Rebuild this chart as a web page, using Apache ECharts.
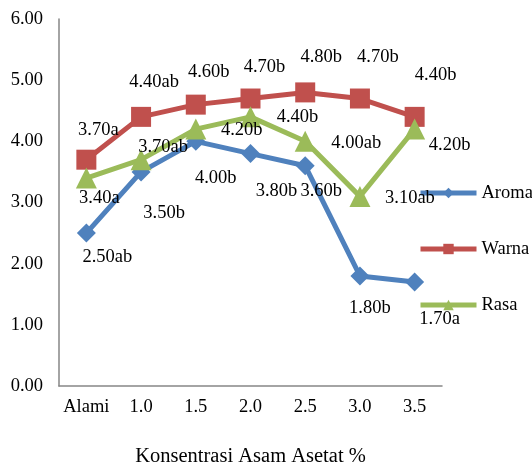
<!DOCTYPE html>
<html>
<head>
<meta charset="utf-8">
<script src="https://cdn.jsdelivr.net/npm/echarts@6/dist/echarts.min.js"></script>
<style>
html,body{margin:0;padding:0;background:#fff;}
#chart{width:532px;height:465px;}
</style>
</head>
<body>
<div id="chart"></div>
<script>
// ---- data ----
const categories = ['Alami', '1.0', '1.5', '2.0', '2.5', '3.0', '3.5'];
const yTicks = [0, 1, 2, 3, 4, 5, 6];
const seriesNames = ['Aroma', 'Warna', 'Rasa'];
const aromaValues = [2.50, 3.50, 4.00, 3.80, 3.60, 1.80, 1.70];
const aromaLetters = ['ab', 'b', 'b', 'b', 'b', 'b', 'a'];
const warnaValues = [3.70, 4.40, 4.60, 4.70, 4.80, 4.70, 4.40];
const warnaLetters = ['a', 'ab', 'b', 'b', 'b', 'b', 'b'];
const rasaValues = [3.40, 3.70, 4.20, 4.40, 4.00, 3.10, 4.20];
const rasaLetters = ['a', 'ab', 'b', 'b', 'ab', 'ab', 'b'];
const xTitle = 'Konsentrasi Asam Asetat %';

// ---- layout (label placement, not data) ----
const aromaLabelShift = [[21,24],[23,41],[20,37],[26,38],[16,25],[10,32],[25,37]];
const warnaLabelShift = [[12,-30],[13,-35],[13,-32],[14,-31],[16,-35],[18,-41],[21,-42]];
const rasaLabelShift  = [[13,20],[22,-13],[46,1],[47,0],[51,2],[50,2],[35,16]];

const FONT = 'Liberation Serif';
const colors = ['#4F81BD', '#C0504D', '#9BBB59'];
const symbols = ['diamond', 'rect', 'triangle'];
const symbolSizes = [19, 20, 21];

function buildData(values, letters, shifts) {
  return values.map((v, i) => ({
    value: v,
    letter: letters[i],
    label: { offset: shifts[i] }
  }));
}

const allData = [
  buildData(aromaValues, aromaLetters, aromaLabelShift),
  buildData(warnaValues, warnaLetters, warnaLabelShift),
  buildData(rasaValues, rasaLetters, rasaLabelShift)
];

const chart = echarts.init(document.getElementById('chart'), null, {renderer: 'canvas'});
chart.setOption({
  animation: false,
  backgroundColor: '#fff',
  grid: { left: 59, right: 90, top: 19, bottom: 79, containLabel: false, outerBoundsMode: 'none' },
  legend: {
    orient: 'vertical',
    left: 418,
    top: 183,
    padding: 0,
    itemWidth: 56,
    itemHeight: 13,
    itemGap: 36,
    lineStyle: { width: 5 },
    textStyle: { fontFamily: FONT, fontSize: 18.5, color: '#000', lineHeight: 20 },
    data: seriesNames
  },
  xAxis: {
    type: 'category',
    data: categories,
    boundaryGap: true,
    axisLine: { lineStyle: { color: '#868686', width: 1.5 } },
    axisTick: { show: false },
    axisLabel: { fontFamily: FONT, fontSize: 18.5, color: '#000', margin: 12, interval: 0 },
    name: xTitle,
    nameLocation: 'middle',
    nameGap: 60,
    nameTextStyle: { fontFamily: FONT, fontSize: 20.5, color: '#000' }
  },
  yAxis: {
    type: 'value',
    min: yTicks[0],
    max: yTicks[yTicks.length - 1],
    interval: 1,
    axisLine: { show: true, lineStyle: { color: '#868686', width: 1.5 } },
    axisTick: { show: false },
    splitLine: { show: false },
    axisLabel: {
      fontFamily: FONT, fontSize: 18.5, color: '#000', margin: 16,
      formatter: v => v.toFixed(2)
    }
  },
  series: seriesNames.map((name, k) => ({
    name: name,
    type: 'line',
    data: allData[k],
    symbol: symbols[k],
    symbolSize: symbolSizes[k],
    color: colors[k],
    lineStyle: { width: 5, color: colors[k] },
    itemStyle: { color: colors[k] },
    label: {
      show: true,
      position: 'inside',
      fontFamily: FONT,
      fontSize: 18.5,
      color: '#000',
      formatter: p => p.value.toFixed(2) + p.data.letter
    },
    z: 2 + k
  }))
});
</script>
</body>
</html>
